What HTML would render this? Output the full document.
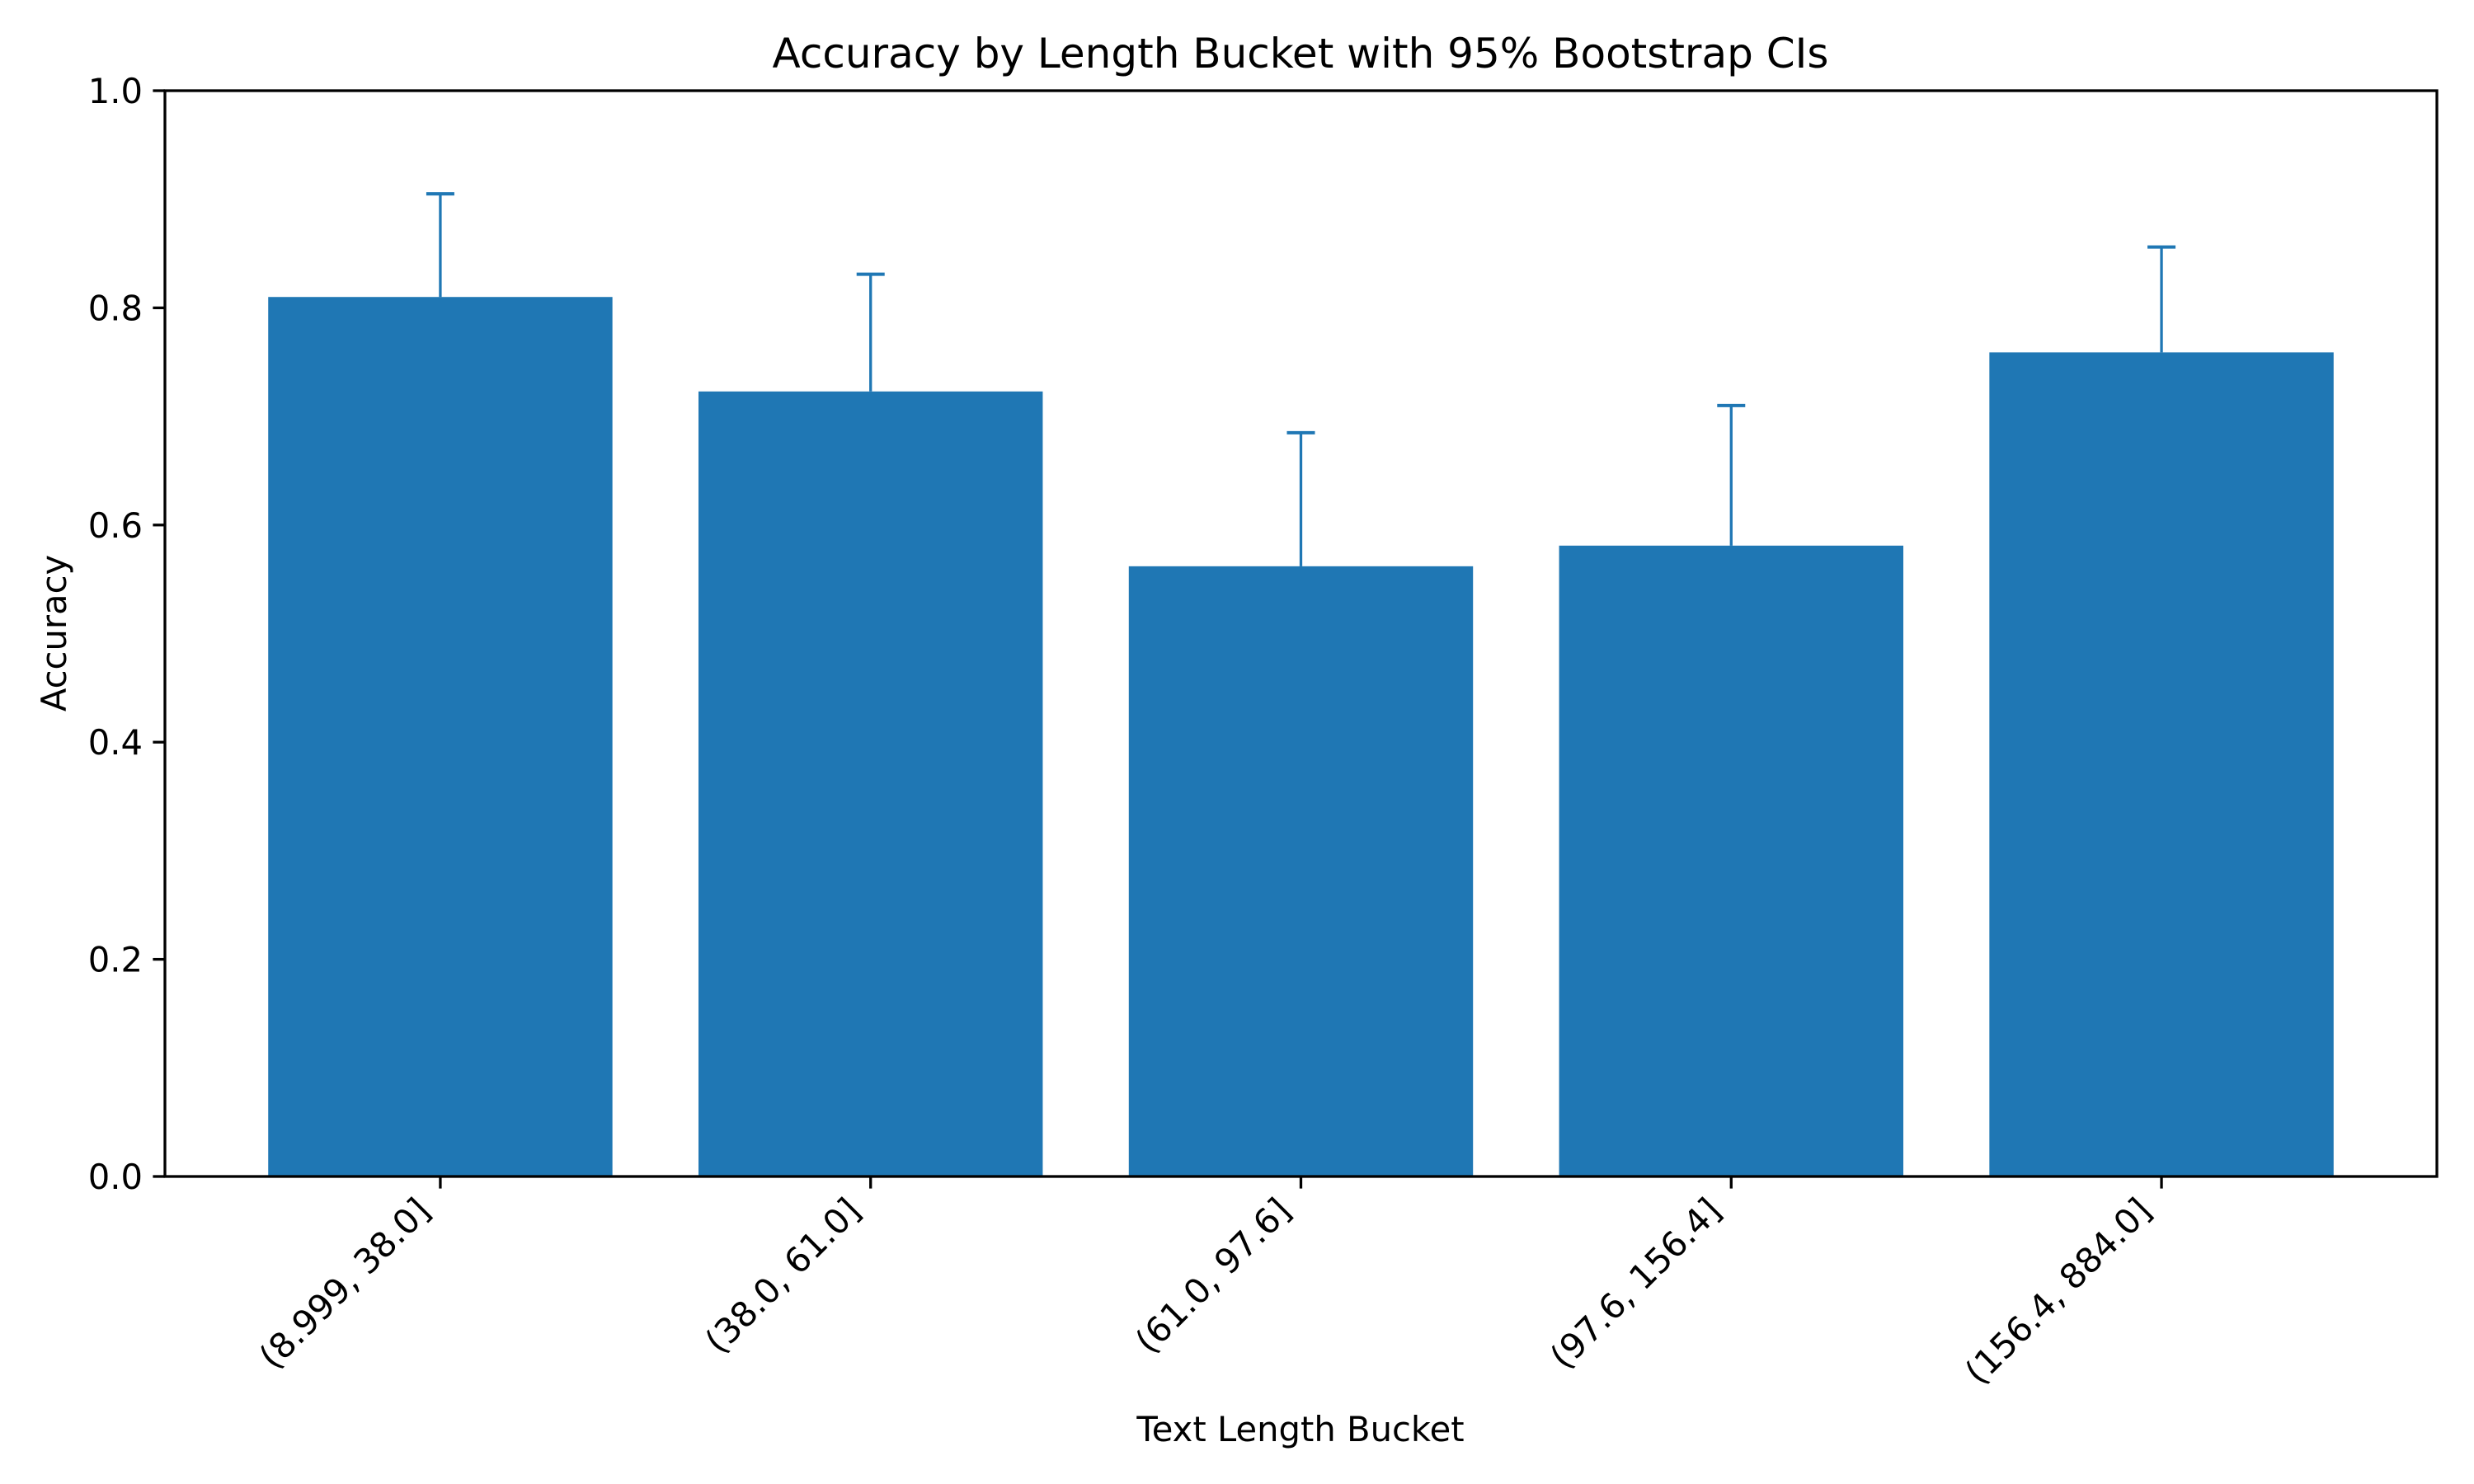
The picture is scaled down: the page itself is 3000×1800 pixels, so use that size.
<!DOCTYPE html>
<html><head><meta charset="utf-8"><style>
html,body{margin:0;padding:0;background:#fff;}
svg{display:block;font-family:"DejaVu Sans","Liberation Sans",sans-serif;}
</style></head><body>
<svg id="chart" width="3000" height="1800" viewBox="0 0 3000 1800">
<rect width="3000" height="1800" fill="#fff"/>
<g id="marks"></g>
<g id="axes"></g>
<text x="1577" y="82" font-size="50" text-anchor="middle">Accuracy by Length Bucket with 95% Bootstrap CIs</text>
<text x="1577" y="1748" font-size="41.7" text-anchor="middle">Text Length Bucket</text>
<text transform="translate(80,768) rotate(-90)" font-size="41.7" text-anchor="middle">Accuracy</text>
</svg>
<script>
const categories = ["(8.999, 38.0]", "(38.0, 61.0]", "(61.0, 97.6]", "(97.6, 156.4]", "(156.4, 884.0]"];
const accuracy = [0.810, 0.723, 0.562, 0.581, 0.759];
const ciUpper = [0.905, 0.831, 0.685, 0.710, 0.856];
const yTicks = [0, 0.2, 0.4, 0.6, 0.8, 1.0];
const yTickLabels = ["0.0", "0.2", "0.4", "0.6", "0.8", "1.0"];

const NS = "http://www.w3.org/2000/svg";
const L = 200, R = 2955, T = 110, B = 1427;
const xmin = -0.64, xmax = categories.length - 1 + 0.64;
const xs = v => L + (v - xmin) / (xmax - xmin) * (R - L);
const ys = v => B - v * (B - T);
const unit = xs(1) - xs(0);
const marks = document.getElementById('marks');
const axes = document.getElementById('axes');
function mk(tag, attrs, parent) {
  const e = document.createElementNS(NS, tag);
  for (const k in attrs) e.setAttribute(k, attrs[k]);
  parent.appendChild(e);
  return e;
}
accuracy.forEach((v, i) => {
  const bw = 0.8 * unit;
  const r = mk('rect', {x: xs(i) - bw / 2, y: ys(v), width: bw, height: ys(0) - ys(v), fill: '#1f77b4'}, marks);
  
  
  const el = mk('line', {x1: xs(i), x2: xs(i), y1: ys(v), y2: ys(ciUpper[i]), stroke: '#1f77b4', 'stroke-width': 3.3}, marks);
  
  
  const cap = mk('line', {x1: xs(i) - 17, x2: xs(i) + 17, y1: ys(ciUpper[i]), y2: ys(ciUpper[i]), stroke: '#1f77b4', 'stroke-width': 4}, marks);
  
  
  const tk = mk('line', {x1: xs(i), x2: xs(i), y1: B, y2: B + 14.6, stroke: '#000', 'stroke-width': 3.3}, axes);
  
  
  const tx = xs(i) - 10, ty = B + 44;
  const lab = mk('text', {x: tx, y: ty, 'font-size': 41.7, 'text-anchor': 'end', transform: `rotate(-45 ${tx} ${ty})`}, axes);
  lab.textContent = categories[i];
  
  
});
yTicks.forEach((v, i) => {
  const tk = mk('line', {x1: L - 14.6, x2: L, y1: ys(v), y2: ys(v), stroke: '#000', 'stroke-width': 3.3}, axes);
  
  
  const lab = mk('text', {x: L - 27, y: ys(v) + 15, 'font-size': 41.7, 'text-anchor': 'end'}, axes);
  lab.textContent = yTickLabels[i];
  
  
});
const frame = mk('rect', {x: L, y: T, width: R - L, height: B - T, fill: 'none', stroke: '#000', 'stroke-width': 3.3}, axes);


</script>
</body></html>
